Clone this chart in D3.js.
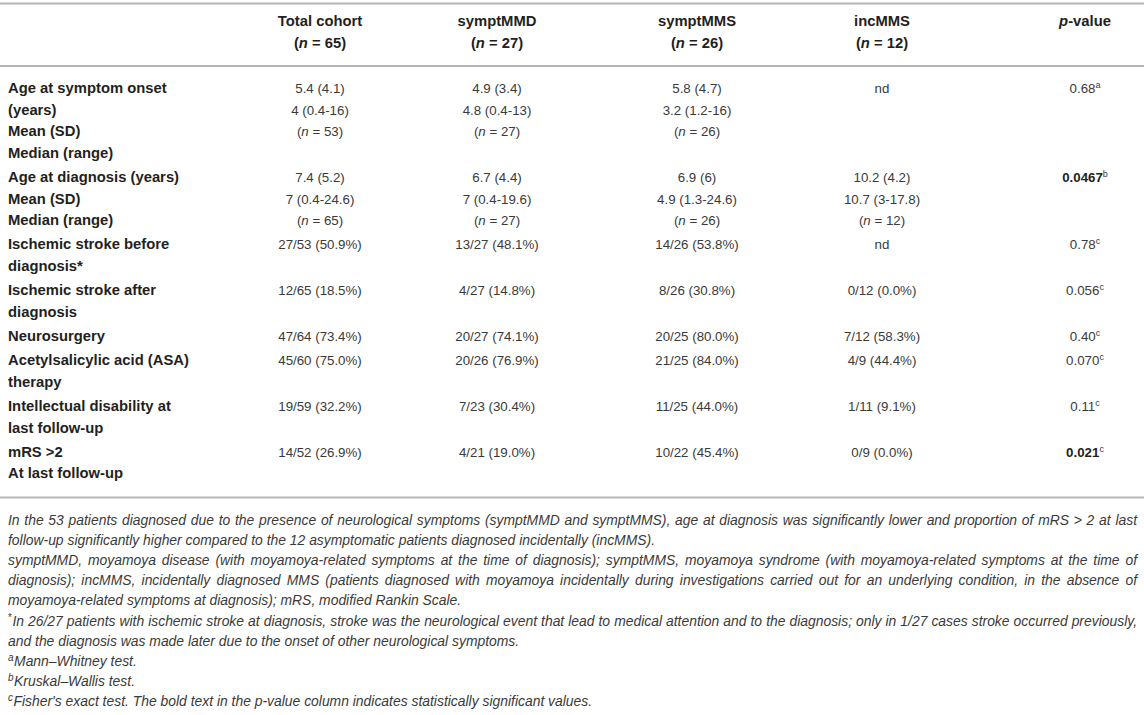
<!DOCTYPE html>
<html>
<head>
<meta charset="utf-8">
<script src="https://cdn.jsdelivr.net/npm/d3@7"></script>
<style>
  html, body { margin: 0; padding: 0; background: #fff; }
  svg { display: block; }
</style>
</head>
<body>
<div id="chart"></div>
<script>
// ---------- data ----------
const columns = ["Total cohort", "symptMMD", "symptMMS", "incMMS"];
const columnN = [65, 27, 26, 12];
const pHeader = "p-value";

const rowLabels = [
  ["Age at symptom onset", "(years)", "Mean (SD)", "Median (range)"],
  ["Age at diagnosis (years)", "Mean (SD)", "Median (range)"],
  ["Ischemic stroke before", "diagnosis*"],
  ["Ischemic stroke after", "diagnosis"],
  ["Neurosurgery"],
  ["Acetylsalicylic acid (ASA)", "therapy"],
  ["Intellectual disability at", "last follow-up"],
  ["mRS >2", "At last follow-up"]
];

const totalCohort = [
  ["5.4 (4.1)", "4 (0.4-16)", "(n = 53)"],
  ["7.4 (5.2)", "7 (0.4-24.6)", "(n = 65)"],
  ["27/53 (50.9%)"], ["12/65 (18.5%)"], ["47/64 (73.4%)"],
  ["45/60 (75.0%)"], ["19/59 (32.2%)"], ["14/52 (26.9%)"]
];
const symptMMD = [
  ["4.9 (3.4)", "4.8 (0.4-13)", "(n = 27)"],
  ["6.7 (4.4)", "7 (0.4-19.6)", "(n = 27)"],
  ["13/27 (48.1%)"], ["4/27 (14.8%)"], ["20/27 (74.1%)"],
  ["20/26 (76.9%)"], ["7/23 (30.4%)"], ["4/21 (19.0%)"]
];
const symptMMS = [
  ["5.8 (4.7)", "3.2 (1.2-16)", "(n = 26)"],
  ["6.9 (6)", "4.9 (1.3-24.6)", "(n = 26)"],
  ["14/26 (53.8%)"], ["8/26 (30.8%)"], ["20/25 (80.0%)"],
  ["21/25 (84.0%)"], ["11/25 (44.0%)"], ["10/22 (45.4%)"]
];
const incMMS = [
  ["nd"],
  ["10.2 (4.2)", "10.7 (3-17.8)", "(n = 12)"],
  ["nd"], ["0/12 (0.0%)"], ["7/12 (58.3%)"],
  ["4/9 (44.4%)"], ["1/11 (9.1%)"], ["0/9 (0.0%)"]
];
const pValues = ["0.68", "0.0467", "0.78", "0.056", "0.40", "0.070", "0.11", "0.021"];
const pNotes  = ["a", "b", "c", "c", "c", "c", "c", "c"];
const pBold   = [false, true, false, false, false, false, false, true];

const footnotes = [
  { sup: "", lines: [
    "In the 53 patients diagnosed due to the presence of neurological symptoms (symptMMD and symptMMS), age at diagnosis was significantly lower and proportion of mRS > 2 at last",
    "follow-up significantly higher compared to the 12 asymptomatic patients diagnosed incidentally (incMMS)."]},
  { sup: "", lines: [
    "symptMMD, moyamoya disease (with moyamoya-related symptoms at the time of diagnosis); symptMMS, moyamoya syndrome (with moyamoya-related symptoms at the time of",
    "diagnosis); incMMS, incidentally diagnosed MMS (patients diagnosed with moyamoya incidentally during investigations carried out for an underlying condition, in the absence of",
    "moyamoya-related symptoms at diagnosis); mRS, modified Rankin Scale."]},
  { sup: "*", lines: [
    "In 26/27 patients with ischemic stroke at diagnosis, stroke was the neurological event that lead to medical attention and to the diagnosis; only in 1/27 cases stroke occurred previously,",
    "and the diagnosis was made later due to the onset of other neurological symptoms."]},
  { sup: "a", lines: ["Mann–Whitney test."]},
  { sup: "b", lines: ["Kruskal–Wallis test."]},
  { sup: "c", lines: ["Fisher's exact test. The bold text in the p-value column indicates statistically significant values."]}
];

// ---------- layout ----------
const W = 1144, H = 715;
const FONT = "'Liberation Sans', Arial, Helvetica, sans-serif";
const textColor = "#231f20";
const valueColor = "#3a3a3a";
const ruleColor = "#b5b5b5";
const left = 8, right = 1137;
const lineH = 21.6, groupGap = 2.6;

const svg = d3.select("#chart").append("svg")
  .attr("width", W).attr("height", H)
  .style("font-family", FONT);

const colKeys = columns.concat([pHeader]);
const x = d3.scaleOrdinal().domain(colKeys).range([320, 497, 697, 882, 1085]);

// rules
const rules = [3.5, 66, 497.5];
svg.selectAll("line.rule").data(rules).join("line")
  .attr("class", "rule")
  .attr("x1", 0).attr("x2", W)
  .attr("y1", d => d).attr("y2", d => d)
  .attr("stroke", ruleColor).attr("stroke-width", 2);

// header
const headY = d3.scaleLinear().domain([0, 1]).range([25.5, 47.5]);
const hdr = svg.append("g").attr("font-weight", "bold").attr("font-size", 14.8).attr("fill", textColor);
columns.forEach((c, i) => {
  hdr.append("text").attr("x", x(c)).attr("y", headY(0)).attr("text-anchor", "middle").text(c);
  const t = hdr.append("text").attr("x", x(c)).attr("y", headY(1)).attr("text-anchor", "middle");
  t.append("tspan").text("(");
  t.append("tspan").attr("font-style", "italic").text("n");
  t.append("tspan").text(" = " + columnN[i] + ")");
});
{
  const t = hdr.append("text").attr("x", x(pHeader)).attr("y", headY(0)).attr("text-anchor", "middle");
  t.append("tspan").attr("font-style", "italic").text("p");
  t.append("tspan").text("-value");
}

// rows
const rowLines = rowLabels.map((lab, i) =>
  Math.max(lab.length, totalCohort[i].length, symptMMD[i].length, symptMMS[i].length, incMMS[i].length));
const rowStart = [];
let acc = 0;
rowLines.forEach((n, i) => { rowStart.push(acc + i * groupGap); acc += n * lineH; });
const y = d3.scaleLinear().domain([0, 1]).range([93, 94]);
const lineY = (row, k) => y(0) + rowStart[row] + k * lineH;

const labG = svg.append("g").attr("font-weight", "bold").attr("font-size", 14.8).attr("fill", textColor);
rowLabels.forEach((lines, r) => {
  lines.forEach((s, k) => {
    labG.append("text").attr("x", left).attr("y", lineY(r, k)).text(s);
  });
});

function valueText(g, s, xx, yy) {
  const t = g.append("text").attr("x", xx).attr("y", yy).attr("text-anchor", "middle");
  const m = s.match(/^\(n = (\d+)\)$/);
  if (m) {
    t.append("tspan").text("(");
    t.append("tspan").attr("font-style", "italic").text("n");
    t.append("tspan").text(" = " + m[1] + ")");
  } else t.text(s);
}

const valG = svg.append("g").attr("font-size", 13.3).attr("fill", valueColor);
const series = [totalCohort, symptMMD, symptMMS, incMMS];
series.forEach((col, ci) => {
  col.forEach((lines, r) => {
    lines.forEach((s, k) => valueText(valG, s, x(columns[ci]), lineY(r, k)));
  });
});

pValues.forEach((p, r) => {
  const t = valG.append("text").attr("x", x(pHeader)).attr("y", lineY(r, 0)).attr("text-anchor", "middle");
  t.append("tspan").attr("font-weight", pBold[r] ? "bold" : "normal")
    .attr("fill", pBold[r] ? textColor : valueColor).text(p);
  t.append("tspan").attr("font-size", 9).attr("dy", -5).text(pNotes[r]);
});

// footnotes
const fnG = svg.append("g").attr("font-size", 13.9).attr("font-style", "italic").attr("fill", valueColor);
const fnY0 = 525, fnLH = 20.1;
const measurer = fnG.append("text").attr("x", -1000).attr("y", -1000);
function measure(s) { measurer.text(s); return measurer.node().getComputedTextLength(); }

let li = 0;
footnotes.forEach(fn => {
  fn.lines.forEach((line, k) => {
    const yy = fnY0 + li * fnLH;
    let x0 = left;
    if (k === 0 && fn.sup) {
      const st = fnG.append("text").attr("x", x0).attr("y", yy - 5).attr("font-size", 10)
        .attr("font-style", fn.sup === "*" ? "normal" : "italic").text(fn.sup);
      x0 += st.node().getComputedTextLength() + 0.5;
    }
    const justify = k < fn.lines.length - 1;
    if (!justify) {
      fnG.append("text").attr("x", x0).attr("y", yy).text(line);
    } else {
      const words = line.split(" ");
      const widths = words.map(measure);
      const total = d3.sum(widths);
      const gap = (right - x0 - total) / (words.length - 1);
      let cx = x0;
      words.forEach((w, i) => {
        fnG.append("text").attr("x", cx).attr("y", yy).text(w);
        cx += widths[i] + gap;
      });
    }
    li++;
  });
});
measurer.remove();
</script>
</body>
</html>
